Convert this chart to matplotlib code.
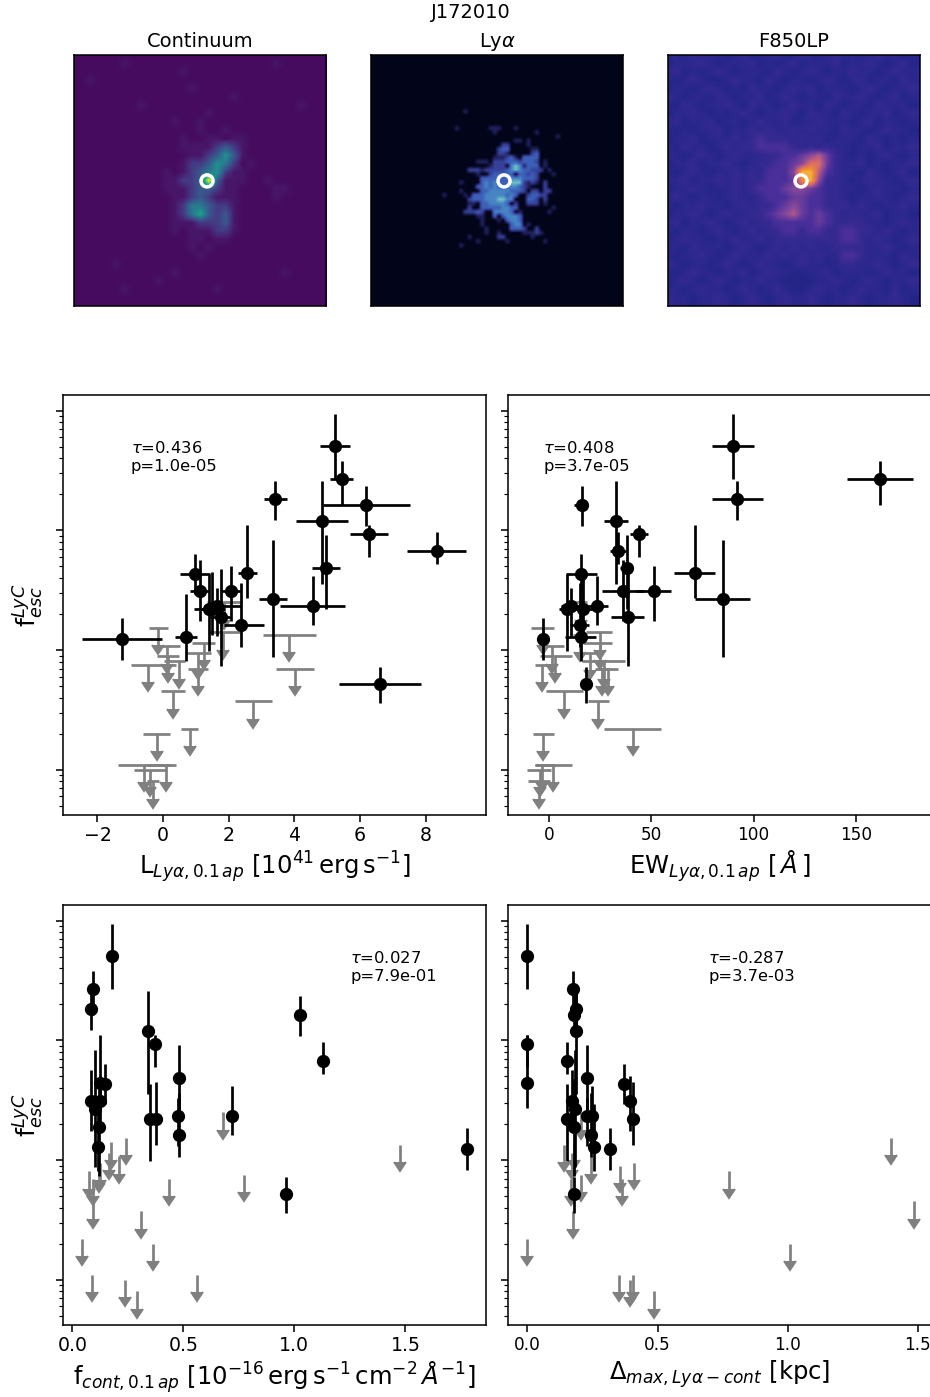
import matplotlib
matplotlib.use('Agg')
import matplotlib.pyplot as plt
from matplotlib.colors import LinearSegmentedColormap
from matplotlib.ticker import LogLocator, NullFormatter
import numpy as np

# log10 of fesc for the detections, with the upper and lower ends of the error bars
det_log_f = [-0.297, -0.568, -0.741, -0.785, -0.919, -1.031, -1.176, -1.318, -1.360, -1.368, -1.508,
             -1.508, -1.575, -1.630, -1.630, -1.653, -1.653, -1.725, -1.787, -1.887, -1.904, -2.283]
det_log_hi = [-0.032, -0.420, -0.587, -0.626, -0.587, -0.955, -1.011, -1.039, -0.955, -1.195, -1.245,
              -1.301, -1.078, -1.480, -1.379, -1.363, -1.349, -1.324, -1.441, -1.535, -1.736, -2.138]
det_log_lo = [-0.568, -0.791, -0.911, -0.964, -1.446, -1.223, -1.284, -1.661, -1.563, -1.530, -1.759,
              -1.753, -2.060, -1.879, -1.787, -2.010, -1.870, -2.132, -1.971, -2.093, -2.082, -2.439]

# luminosity of the detections
det_lum = [5.24, 5.45, 3.42, 6.19, 4.84, 6.27, 8.34, 4.96, 2.57, 0.98, 1.12,
           2.06, 3.35, 1.64, 4.56, 1.39, 1.49, 1.75, 2.37, 0.70, -1.24, 6.62]
det_lum_lo = [4.79, 5.10, 3.07, 4.87, 4.06, 5.69, 7.43, 4.53, 2.27, 0.53, 0.83,
              1.73, 2.91, 1.24, 3.57, 0.93, 1.09, 1.42, 1.85, 0.37, -2.47, 5.36]
det_lum_hi = [5.69, 5.79, 3.78, 7.51, 5.62, 6.84, 9.24, 5.38, 2.86, 1.42, 1.39,
              2.36, 3.78, 2.36, 5.53, 1.85, 1.90, 2.05, 3.07, 1.04, -0.03, 7.87]

# equivalent width of the detections
det_ew = [89.9, 161.7, 92.0, 16.0, 32.8, 44.2, 33.6, 38.0, 71.5, 15.8, 36.4,
          51.1, 84.8, 10.6, 23.5, 8.8, 16.8, 38.7, 15.2, 15.7, -2.9, 18.1]
det_ew_lo = [79.8, 145.4, 79.6, 12.4, 27.1, 39.8, 29.7, 34.7, 61.3, 8.3, 26.1,
             42.4, 71.5, 6.2, 19.2, 5.1, 12.7, 30.3, 10.3, 7.8, -4.6, 15.2]
det_ew_hi = [100.0, 177.8, 104.4, 19.2, 38.5, 48.3, 37.5, 41.3, 81.2, 23.3, 46.7,
             59.7, 98.4, 15.2, 28.7, 12.7, 21.7, 46.7, 19.6, 22.8, -1.3, 20.9]

det_cont = [0.180, 0.095, 0.084, 1.024, 0.339, 0.374, 1.128, 0.480, 0.125, 0.147, 0.083,
            0.126, 0.102, 0.474, 0.718, 0.351, 0.377, 0.119, 0.480, 0.117, 1.776, 0.962]
det_delta = [0.000, 0.174, 0.185, 0.177, 0.185, 0.000, 0.153, 0.229, 0.000, 0.370, 0.172,
             0.395, 0.181, 0.230, 0.249, 0.152, 0.404, 0.179, 0.243, 0.254, 0.316, 0.179]

# upper limits
lim_log_f = [-1.814, -1.968, -2.049, -2.121, -2.093, -1.937, -2.024, -2.157, -1.851, -1.600,
             -1.870, -2.157, -2.344, -2.428, -2.699, -2.657, -2.958, -3.000, -2.958, -3.097]
lim_lum = [-0.15, 0.12, 0.15, -0.47, 0.47, 1.24, 1.07, 1.06, 1.82, 1.85,
           3.84, 4.03, 0.30, 2.75, -0.19, 0.81, -0.59, -0.39, 0.08, -0.30]
lim_lum_lo = [-0.43, -0.30, -0.18, -0.99, 0.02, 0.88, 0.71, 0.77, 1.39, 1.34,
              3.03, 3.45, -0.06, 2.18, -0.60, 0.55, -1.38, -0.89, -0.49, -0.49]
lim_lum_hi = [0.14, 0.51, 0.49, 0.38, 0.68, 1.59, 1.46, 1.36, 2.36, 2.41,
              4.67, 4.61, 0.66, 3.32, 0.20, 1.06, 0.20, 0.12, 0.40, -0.12]
lim_ew = [-2.9, 1.8, 2.9, -3.1, 26.8, 24.8, 20.1, 25.9, 24.8, 15.8,
          15.2, 29.0, 7.5, 24.0, -2.6, 40.9, -3.1, -4.4, 2.1, -4.7]
lim_ew_lo = [-8.5, -4.4, -4.4, -6.9, 16.3, 16.8, 15.2, 22.5, 18.1, 12.4,
             11.9, 24.1, -1.6, 18.9, -7.7, 27.1, -6.9, -10.4, -6.9, -10.1]
lim_ew_hi = [2.4, 7.2, 11.1, 1.0, 37.2, 31.0, 25.8, 29.4, 31.0, 18.8,
             18.4, 33.6, 16.8, 29.2, 2.4, 54.6, 2.9, 1.0, 11.1, 0.5]
lim_cont = [0.243, 0.209, 0.120, 0.772, 0.075, 0.164, 0.126, 0.095, 0.176, 0.679,
            1.477, 0.437, 0.092, 0.311, 0.365, 0.042, 0.089, 0.236, 0.563, 0.293]
lim_delta = [1.396, 0.244, 0.355, 0.207, 0.774, 0.170, 0.410, 0.168, 0.180, 0.207,
             0.141, 0.365, 1.483, 0.176, 1.009, 0.000, 0.351, 0.393, 0.406, 0.486]

# cutouts, one digit per cell (coarse reading of the images)
img_continuum = [
    "000000000000000000000000000000",
    "000000100000000000000000100000",
    "000000000000010000000000000000",
    "001000000000000000000000000000",
    "000000000000001000000000000000",
    "000000000000000000010000000000",
    "000000001000000000000000000100",
    "000000000000000010000000000000",
    "000000000000100100000000000000",
    "000000000000000100100000000000",
    "000000000000010011011000000000",
    "000000000000011112321000000000",
    "000000000000001123531000000000",
    "000000000000012235420100000000",
    "000000000001012345211000000000",
    "000000000001122393111001000000",
    "000000000001112332110000110000",
    "000000000000112321110000100000",
    "000000000000124432210000000000",
    "000000000000124632310000000000",
    "000000000000111222310000000000",
    "000000000000101112210000000000",
    "000000000000001101100000000000",
    "000000000000001010000000000000",
    "000000000000000100000000000000",
    "000001000000000000000000000000",
    "000000000000100000000000010000",
    "000000000010000000000000000000",
    "000000100000000001000000000000",
    "000000000000000000000000000000",
]
img_f850 = [
    "110211101201120021012110121101",
    "011121011120101201112011210120",
    "120101210111021012101121101211",
    "101210012110210110121012011021",
    "011012101021101212011101210112",
    "210110210112012101102112101201",
    "102101121021101211021011021110",
    "011210101210112102110210112012",
    "120112011012112011211101201101",
    "101011201121211212110211012110",
    "011201112123222121201110210101",
    "102110121223333212121101120112",
    "110121012111223345642101012101",
    "011201121012233457742112010112",
    "101210112121333599632110210120",
    "112011212122333489522101211012",
    "011210112123334554322110121101",
    "121011012112333443322101121012",
    "101121101212234543322212101121",
    "011210121122345643432121120110",
    "120112101212233333432222110121",
    "101101210121223323322332212101",
    "012110112112122222222332121012",
    "110211101210121212112222112101",
    "101121012111212121211332111021",
    "210110121012110121101221121012",
    "101211011201211001120111012110",
    "012101210112110000112101210112",
    "110121101210121001211012110201",
    "211011210121012112101121011210",
]
# Lya cutout at full pixel size: rows 12-47, columns 16-47 of the 60x60 image
img_lya_core = [
    "",
    "0000001",
    "",
    "",
    "",
    "0000100000001110001",
    "000000000000010000000001",
    "00000000000000000000000000001",
    "0000000000000000001101",
    "0000000000000002200001",
    "000000000000002330000011",
    "000000000000002210000023",
    "000000000000011123103333",
    "00000000011102223332333201",
    "00000000000012220454133301",
    "000000022212222234543322201",
    "0000000001002333330332320001",
    "000000000033333334443332",
    "00000100003434333555212102",
    "00000000033434333443210002",
    "000001000033444443332022022",
    "01000010333444443430023322",
    "00000002333444554400033202",
    "00000001103344443020022201",
    "0000000200333334433000000001",
    "000000222320044443010000001",
    "00000000011003034443",
    "00000000001000103443",
    "0000000000100000034401",
    "000000000001000003332002",
    "0000000000010010000011121",
    "00000001000000220000001",
    "00000000010000001000000001",
    "000001",
    "",
    "",
]

continuum_levels = [0.03, 0.06, 0.17, 0.28, 0.40, 0.50, 0.58, 0.68, 0.80, 1.0]
f850_levels = [0.115, 0.145, 0.175, 0.25, 0.31, 0.37, 0.44, 0.52, 0.60, 0.70]

image_titles = ['Continuum', r'Ly$\alpha$', 'F850LP']
tau_labels = [r'$\tau$=0.436' + '\np=1.0e-05', r'$\tau$=0.408' + '\np=3.7e-05',
              r'$\tau$=0.027' + '\np=7.9e-01', r'$\tau$=-0.287' + '\np=3.7e-03']

lya_cmap = LinearSegmentedColormap.from_list(
    'lya', ['#02041a', '#20225e', '#37419a', '#3c60b8', '#4684c3', '#6ec0c8'])
f850_cmap = LinearSegmentedColormap.from_list(
    'f850', [(0, '#0a0a40'), (0.12, '#26268a'), (0.25, '#4a2f9a'), (0.375, '#8a4a9a'),
             (0.5, '#d86a6a'), (0.625, '#f09030'), (0.75, '#f8c840'), (1, '#ffffff')])

W, H = 930, 1397
fig = plt.figure(figsize=(W / 140, H / 140), dpi=140)


def px_axes(left, top, right, bottom):
    return fig.add_axes([left / W, 1 - bottom / H, (right - left) / W, (bottom - top) / H])


def coarse_image(rows, levels):
    grid = np.array([[levels[int(c)] for c in r] for r in rows])
    # one extra cell at the far edges because the cells sit half a cell up and left
    return np.pad(grid, ((0, 1), (0, 1)), mode='edge')


def lya_image():
    grid = np.zeros((60, 60))
    for i, row in enumerate(img_lya_core):
        for j, c in enumerate(row):
            grid[12 + i, 16 + j] = int(c)
    return grid


def draw_cutout(left, data, cmap, vmin, vmax, title, interp, extent=None):
    ax = px_axes(left, 55, left + 252, 306)
    ax.imshow(data, cmap=cmap, vmin=vmin, vmax=vmax, aspect='auto', interpolation=interp, extent=extent)
    ax.set_xlim(-0.5, 59.5)
    ax.set_ylim(59.5, -0.5)
    ax.scatter([31.17], [29.6], s=38, facecolors='none', edgecolors='white', linewidths=1.8, zorder=3)
    ax.set_xticks([])
    ax.set_yticks([])
    ax.set_title(title, fontsize=10, pad=4)


def draw_scatter(box, x, x_lo, x_hi, lx, lx_lo, lx_hi, xlim, xticks, xlabel, tick_size, text, text_x, ylabel):
    ax = px_axes(*box)
    f = 10 ** np.array(det_log_f)
    f_up = 10 ** np.array(det_log_hi) - f
    f_dn = f - 10 ** np.array(det_log_lo)
    lim = 10 ** np.array(lim_log_f)

    x, lx = np.array(x), np.array(lx)
    xerr = None
    lxerr = None
    if x_lo is not None:
        xerr = [x - np.array(x_lo), np.array(x_hi) - x]
        lxerr = [lx - np.array(lx_lo), np.array(lx_hi) - lx]

    eb = ax.errorbar(lx, lim, yerr=lim * 0.284, xerr=lxerr, uplims=True, fmt='none',
                     ecolor='gray', elinewidth=1.4, zorder=2)
    for cap in eb[1]:
        cap.set_color('gray')
        cap.set_markersize(6)
    ax.errorbar(x, f, yerr=[f_dn, f_up], xerr=xerr, fmt='o', color='black', ms=5.8,
                elinewidth=1.4, zorder=3)

    ax.set_yscale('log')
    ax.set_ylim(10 ** -3.377, 10 ** 0.13)
    ax.yaxis.set_major_locator(LogLocator(base=10, numticks=10))
    ax.yaxis.set_minor_locator(LogLocator(base=10, subs=np.arange(2, 10), numticks=10))
    ax.yaxis.set_minor_formatter(NullFormatter())
    ax.tick_params(axis='y', which='both', labelleft=False)
    ax.set_xlim(*xlim)
    ax.set_xticks(xticks)
    ax.tick_params(axis='x', labelsize=tick_size, pad=2.2)
    ax.set_xlabel(xlabel, fontsize=12.5, labelpad=2)
    if ylabel:
        ax.set_ylabel(r'f$_{esc}^{LyC}$', fontsize=13, labelpad=5)
    ax.text(text_x, 0.813, text, transform=ax.transAxes, fontsize=8.4, va='bottom')
    return ax


coarse_extent = (-1.5, 60.5, 60.5, -1.5)
draw_cutout(74, coarse_image(img_continuum, continuum_levels), 'viridis', 0, 1, image_titles[0], 'bilinear', coarse_extent)
draw_cutout(371, lya_image(), lya_cmap, 0, 5, image_titles[1], 'bilinear')
draw_cutout(668, coarse_image(img_f850, f850_levels), f850_cmap, 0, 1, image_titles[2], 'bilinear', coarse_extent)
fig.text(471 / W, 1 - 12.5 / H, 'J172010', ha='center', va='center', fontsize=10)

draw_scatter((63, 395, 486, 815), det_lum, det_lum_lo, det_lum_hi, lim_lum, lim_lum_lo, lim_lum_hi,
             (-3.05, 9.84), [-2, 0, 2, 4, 6, 8],
             r'L$_{Ly\alpha,0.1\,ap}$ [10$^{41}\,\mathrm{erg\,s^{-1}}$]', 9.7, tau_labels[0], 0.160, True)
draw_scatter((508, 395, 931, 815), det_ew, det_ew_lo, det_ew_hi, lim_ew, lim_ew_lo, lim_ew_hi,
             (-19.9, 186.5), [0, 50, 100, 150],
             r'EW$_{Ly\alpha,0.1\,ap}$ [$\,\AA\,$]', 8.7, tau_labels[1], 0.083, False)
draw_scatter((63, 905, 486, 1325), det_cont, None, None, lim_cont, None, None,
             (-0.042, 1.863), [0.0, 0.5, 1.0, 1.5],
             r'f$_{cont,0.1\,ap}$ [10$^{-16}\,\mathrm{erg\,s^{-1}\,cm^{-2}}\,\AA^{-1}$]', 9.7, tau_labels[2], 0.679, True)
draw_scatter((508, 905, 931, 1325), det_delta, None, None, lim_delta, None, None,
             (-0.0746, 1.55), [0.0, 0.5, 1.0, 1.5],
             r'$\Delta_{max,Ly\alpha-cont}$ [kpc]', 8.7, tau_labels[3], 0.473, False)

fig.savefig('out.png', dpi=140)
